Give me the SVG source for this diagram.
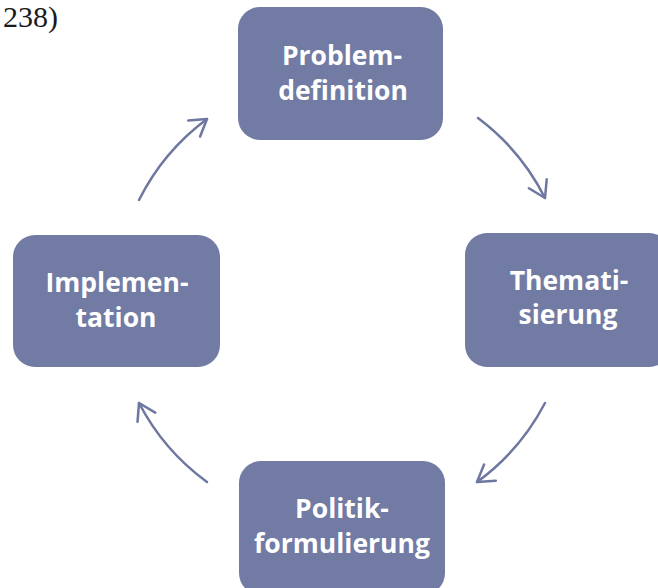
<svg xmlns="http://www.w3.org/2000/svg" width="658" height="588" viewBox="0 0 658 588">
  <style>
    .box { fill: #727ba3; }
    .lbl { font-family: "Open Sans", "Liberation Sans", sans-serif; font-weight: bold; font-size: 26.5px; fill: #ffffff; text-anchor: middle; }
    .arc { fill: none; stroke: #6e77a0; stroke-width: 2.5; stroke-linecap: round; }
    .cite { font-family: "Liberation Serif", "Times New Roman", serif; font-size: 30px; fill: #1a1a1a; }
  </style>
  <defs>
    <marker id="chev" markerUnits="userSpaceOnUse" markerWidth="40" markerHeight="40" refX="20" refY="20" orient="auto" viewBox="0 0 40 40">
      <path d="M4,10 L20,20 L4,30" fill="none" stroke="#6e77a0" stroke-width="2.5" stroke-linecap="round" stroke-linejoin="round"/>
    </marker>
  </defs>
  <rect width="658" height="588" fill="#ffffff"/>
  <text class="cite" x="3" y="27">238)</text>

  <g id="connectors">
    <path class="arc" d="M478,118 A228,228 0 0 1 545,198" marker-end="url(#chev)"/>
    <path class="arc" d="M545,403 A228,228 0 0 1 477,482" marker-end="url(#chev)"/>
    <path class="arc" d="M207,482 A228,228 0 0 1 139,403" marker-end="url(#chev)"/>
    <path class="arc" d="M139,200 A228,228 0 0 1 207,119" marker-end="url(#chev)"/>
  </g>

  <g id="node-problemdefinition">
    <rect class="box" x="238" y="7" width="205" height="133" rx="22"/>
    <text class="lbl" x="342" y="65">Problem-</text>
    <text class="lbl" x="343" y="100">definition</text>
  </g>
  <g id="node-thematisierung">
    <rect class="box" x="465" y="233" width="206" height="134" rx="22"/>
    <text class="lbl" x="569" y="290">Themati-</text>
    <text class="lbl" x="568" y="324">sierung</text>
  </g>
  <g id="node-politikformulierung">
    <rect class="box" x="239" y="461" width="206" height="134" rx="22"/>
    <text class="lbl" x="342" y="518">Politik-</text>
    <text class="lbl" x="342" y="553">formulierung</text>
  </g>
  <g id="node-implementation">
    <rect class="box" x="13" y="235" width="207" height="132" rx="22"/>
    <text class="lbl" x="117" y="292">Implemen-</text>
    <text class="lbl" x="116" y="327">tation</text>
  </g>
</svg>
